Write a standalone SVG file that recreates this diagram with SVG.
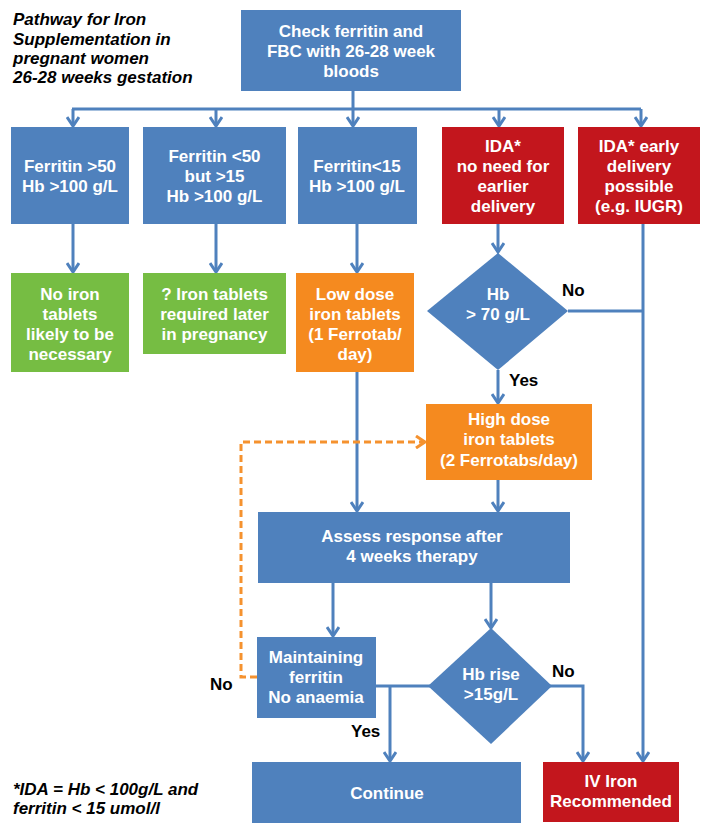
<svg xmlns="http://www.w3.org/2000/svg" width="706" height="825" viewBox="0 0 706 825">
<style>
.blue{fill:#4f81bd}
.red{fill:#c3161d}
.green{fill:#76bd43}
.orange{fill:#f58a1f}
.t{font-family:"Liberation Sans",Arial,sans-serif;font-weight:bold;font-size:17px;fill:#fff;text-anchor:middle}
.lbl{font-family:"Liberation Sans",Arial,sans-serif;font-weight:bold;font-size:17px;fill:#000}
.it{font-family:"Liberation Sans",Arial,sans-serif;font-weight:bold;font-style:italic;font-size:17px;fill:#000}
.c{fill:none;stroke:#4f81bd;stroke-width:3}
.d{fill:none;stroke:#f5922f;stroke-width:3;stroke-dasharray:7 4}
</style>
<defs>
<marker id="ah" markerWidth="14" markerHeight="14" refX="11" refY="7" orient="auto" markerUnits="userSpaceOnUse">
<path d="M2,1 L11,7 L2,13" fill="none" stroke="#4f81bd" stroke-width="3"/>
</marker>
<marker id="ao" markerWidth="14" markerHeight="14" refX="11" refY="7" orient="auto" markerUnits="userSpaceOnUse">
<path d="M2,1 L11,7 L2,13" fill="none" stroke="#f5922f" stroke-width="3"/>
</marker>
</defs>

<g id="title">
<text class="it" x="13" y="25">Pathway for Iron</text>
<text class="it" x="13" y="44.5">Supplementation in</text>
<text class="it" x="13" y="64">pregnant women</text>
<text class="it" x="13" y="83">26-28 weeks gestation</text>
</g>

<g id="connectors">
<path class="c" d="M353,91 V109 M72,109 H641"/>
<path class="c" d="M73,109 V126" marker-end="url(#ah)"/>
<path class="c" d="M216,109 V126" marker-end="url(#ah)"/>
<path class="c" d="M353,109 V126" marker-end="url(#ah)"/>
<path class="c" d="M499,109 V126" marker-end="url(#ah)"/>
<path class="c" d="M641,109 V126" marker-end="url(#ah)"/>
<path class="c" d="M73,224 V272" marker-end="url(#ah)"/>
<path class="c" d="M216,224 V272" marker-end="url(#ah)"/>
<path class="c" d="M357,224 V272" marker-end="url(#ah)"/>
<path class="c" d="M498,224 V252" marker-end="url(#ah)"/>
<path class="c" d="M568,311 H643"/>
<path class="c" d="M643,224 V761" marker-end="url(#ah)"/>
<path class="c" d="M498,370 V403" marker-end="url(#ah)"/>
<path class="c" d="M357,372 V511" marker-end="url(#ah)"/>
<path class="c" d="M498,480 V511" marker-end="url(#ah)"/>
<path class="c" d="M333,583 V636" marker-end="url(#ah)"/>
<path class="c" d="M491,583 V628" marker-end="url(#ah)"/>
<path class="c" d="M376,686 H430"/>
<path class="c" d="M390,686 V761" marker-end="url(#ah)"/>
<path class="c" d="M550,686 H583 V761" marker-end="url(#ah)"/>
<path class="d" d="M257,677 H241 V442 H425" marker-end="url(#ao)"/>
<text class="lbl" x="562" y="296">No</text>
<text class="lbl" x="509" y="386">Yes</text>
<text class="lbl" x="552" y="677">No</text>
<text class="lbl" x="351" y="737">Yes</text>
<text class="lbl" x="210" y="690">No</text>
</g>

<g id="n-check">
<rect class="blue" x="241" y="10" width="220" height="81"/>
<text class="t" x="351" y="37">Check ferritin and</text>
<text class="t" x="351" y="57">FBC with 26-28 week</text>
<text class="t" x="351" y="77">bloods</text>
</g>

<g id="n-f50">
<rect class="blue" x="11" y="127" width="118" height="97"/>
<text class="t" x="70" y="172">Ferritin &gt;50</text>
<text class="t" x="70" y="192">Hb &gt;100 g/L</text>
</g>

<g id="n-f50-15">
<rect class="blue" x="143" y="127" width="143" height="97"/>
<text class="t" x="214.5" y="162">Ferritin &lt;50</text>
<text class="t" x="214.5" y="182">but &gt;15</text>
<text class="t" x="214.5" y="202">Hb &gt;100 g/L</text>
</g>

<g id="n-f15">
<rect class="blue" x="298" y="127" width="119" height="97"/>
<text class="t" x="357" y="172">Ferritin&lt;15</text>
<text class="t" x="357" y="192">Hb &gt;100 g/L</text>
</g>

<g id="n-ida1">
<rect class="red" x="442" y="127" width="122" height="97"/>
<text class="t" x="503" y="152">IDA*</text>
<text class="t" x="503" y="172">no need for</text>
<text class="t" x="503" y="192">earlier</text>
<text class="t" x="503" y="212">delivery</text>
</g>

<g id="n-ida2">
<rect class="red" x="578" y="127" width="122" height="97"/>
<text class="t" x="639" y="152">IDA* early</text>
<text class="t" x="639" y="172">delivery</text>
<text class="t" x="639" y="192">possible</text>
<text class="t" x="639" y="212">(e.g. IUGR)</text>
</g>

<g id="n-noiron">
<rect class="green" x="11" y="273" width="118" height="99"/>
<text class="t" x="70" y="300">No iron</text>
<text class="t" x="70" y="320">tablets</text>
<text class="t" x="70" y="340">likely to be</text>
<text class="t" x="70" y="360">necessary</text>
</g>

<g id="n-later">
<rect class="green" x="143" y="273" width="143" height="81"/>
<text class="t" x="214.5" y="300">? Iron tablets</text>
<text class="t" x="214.5" y="320">required later</text>
<text class="t" x="214.5" y="340">in pregnancy</text>
</g>

<g id="n-low">
<rect class="orange" x="296" y="273" width="118" height="99"/>
<text class="t" x="355" y="300">Low dose</text>
<text class="t" x="355" y="320">iron tablets</text>
<text class="t" x="355" y="340">(1 Ferrotab/</text>
<text class="t" x="355" y="360">day)</text>
</g>

<g id="n-hb70">
<polygon class="blue" points="498,253 568,311 498,370 427,311"/>
<text class="t" x="498" y="300">Hb</text>
<text class="t" x="498" y="320">&gt; 70 g/L</text>
</g>

<g id="n-high">
<rect class="orange" x="426" y="404" width="166" height="76"/>
<text class="t" x="509" y="425">High dose</text>
<text class="t" x="509" y="445">iron tablets</text>
<text class="t" x="509" y="466">(2 Ferrotabs/day)</text>
</g>

<g id="n-assess">
<rect class="blue" x="258" y="512" width="312" height="71"/>
<text class="t" x="412" y="542">Assess response after</text>
<text class="t" x="412" y="562">4 weeks therapy</text>
</g>

<g id="n-maint">
<rect class="blue" x="257" y="637" width="119" height="81"/>
<text class="t" x="316" y="663">Maintaining</text>
<text class="t" x="316" y="683">ferritin</text>
<text class="t" x="316" y="703">No anaemia</text>
</g>

<g id="n-hbrise">
<polygon class="blue" points="491,628 552,686 491,744 428,686"/>
<text class="t" x="491" y="680">Hb rise</text>
<text class="t" x="491" y="700">&gt;15g/L</text>
</g>

<g id="n-continue">
<rect class="blue" x="252" y="762" width="269" height="61"/>
<text class="t" x="387" y="799">Continue</text>
</g>

<g id="n-iv">
<rect class="red" x="543" y="762" width="136" height="60"/>
<text class="t" x="611" y="787">IV Iron</text>
<text class="t" x="611" y="807">Recommended</text>
</g>

<g id="footnote">
<text class="it" x="13" y="795">*IDA = Hb &lt; 100g/L and</text>
<text class="it" x="13" y="814">ferritin &lt; 15 umol/l</text>
</g>
</svg>
